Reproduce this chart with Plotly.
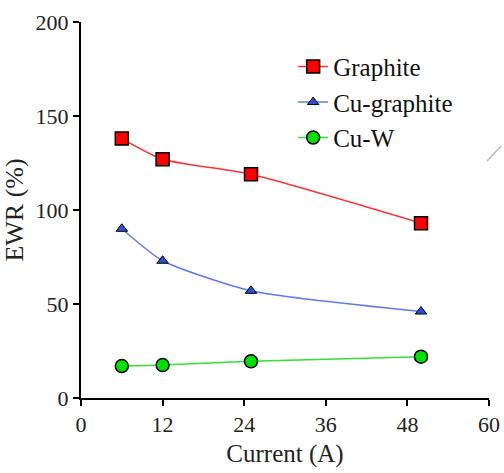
import plotly.graph_objects as go

current = [6, 12, 25, 50]
graphite = [138, 127, 119, 93]
cu_graphite = [90, 73, 57, 46]
cu_w = [17, 17.5, 19.5, 22]

x_ticks = [0, 12, 24, 36, 48, 60]
y_ticks = [0, 50, 100, 150, 200]

fig = go.Figure()
fig.add_trace(go.Scatter(x=current, y=graphite, name="Graphite", mode="lines+markers",
                         line=dict(color="#ff3030", width=1.5, shape="spline", smoothing=0.6),
                         marker=dict(symbol="square", size=13, color="#ff0000",
                                     line=dict(color="#000000", width=1.5))))
fig.add_trace(go.Scatter(x=current, y=cu_graphite, name="Cu-graphite", mode="lines+markers",
                         line=dict(color="#5b7cf0", width=1.5, shape="spline", smoothing=0.6),
                         marker=dict(symbol="triangle-up", size=10, color="#2a4fd0",
                                     line=dict(color="#000000", width=1))))
fig.add_trace(go.Scatter(x=current, y=cu_w, name="Cu-W", mode="lines+markers",
                         line=dict(color="#33e033", width=1.5, shape="spline", smoothing=0.6),
                         marker=dict(symbol="circle", size=13, color="#00e000",
                                     line=dict(color="#000000", width=1.5))))

font_family = "Times New Roman, Liberation Serif, DejaVu Serif, serif"
serif = "serif"
fig.update_layout(
    width=504, height=473,
    margin=dict(l=81, r=15, t=22, b=75),
    plot_bgcolor="white", paper_bgcolor="white",
    font=dict(family=font_family, size=22, color="#222222"),
    showlegend=True,
    legend=dict(x=0.52, y=0.942, xanchor="left", yanchor="top",
                bgcolor="rgba(0,0,0,0)", font=dict(family=serif, size=25, color="#111111"),
                itemwidth=30, tracegroupgap=1),
    xaxis=dict(range=[0, 60], tickvals=x_ticks, showgrid=False, zeroline=False,
               automargin=False,
               showline=True, linecolor="#000000", linewidth=2,
               ticks="outside", ticklen=6, tickcolor="#000000", tickwidth=1.5,
               tickfont=dict(family=serif, size=22),
               title=dict(text="Current (A)", font=dict(family=font_family, size=25), standoff=8)),
    yaxis=dict(range=[0, 200], tickvals=y_ticks, showgrid=False, zeroline=False,
               automargin=False,
               showline=True, linecolor="#000000", linewidth=2,
               ticks="outside", ticklen=6, tickcolor="#000000", tickwidth=1.5,
               tickfont=dict(family=serif, size=22),
               title=dict(text="EWR (%)", font=dict(family=font_family, size=26), standoff=6)),
)
fig.add_shape(type="line", xref="paper", yref="paper", x0=0.995, y0=0.63, x1=1.03, y1=0.67,
              line=dict(color="#bbbbbb", width=1.5))

fig.write_html("out.html", config={"displayModeBar": False},
               post_script="document.body.style.margin='0';")
